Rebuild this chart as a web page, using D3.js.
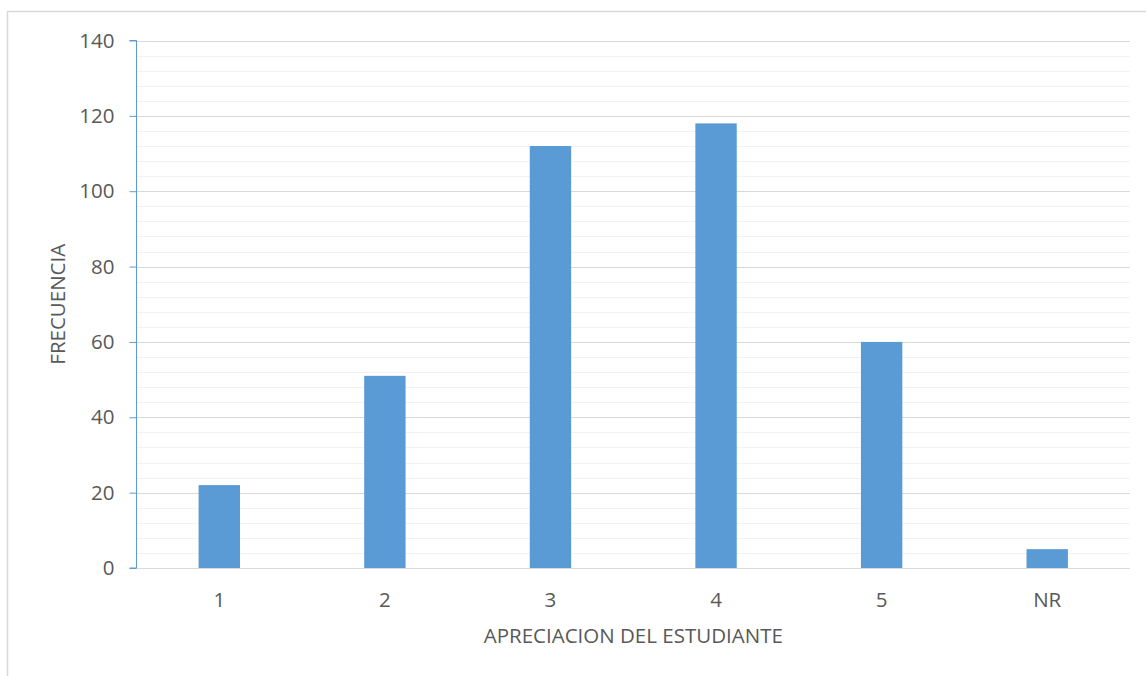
<!DOCTYPE html>
<html>
<head>
<meta charset="utf-8">
<script src="https://cdn.jsdelivr.net/npm/d3@7"></script>
<style>
  html, body { margin: 0; padding: 0; background: #fff; }
  svg { display: block; font-family: "Open Sans", "Liberation Sans", sans-serif; }
</style>
</head>
<body>
<svg id="chart" width="1146" height="676"></svg>
<script>
// Frequency of each student rating
const categories = ["1", "2", "3", "4", "5", "NR"];
const frequencies = [22, 51, 112, 118, 60, 5];
const majorTicks = [0, 20, 40, 60, 80, 100, 120, 140];
const minorTicks = d3.range(0, 141, 4);
const xTitle = "APRECIACION DEL ESTUDIANTE";
const yTitle = "FRECUENCIA";

const W = 1146, H = 676;
const plot = { left: 136.5, right: 1130, top: 40.5, bottom: 568 };
const blue = "#5B9BD5";
const textColor = "#595959";
const tickFont = 20.5;
const titleFont = 20.5;

const svg = d3.select("#chart");

// outer chart frame (top and left edges visible)
svg.append("path")
  .attr("d", `M7.5,${H}V11.5H${W}`)
  .attr("fill", "none")
  .attr("stroke", "#D9D9D9")
  .attr("stroke-width", 1.5);

const x = d3.scaleBand()
  .domain(categories)
  .range([plot.left, plot.right])
  .paddingInner(0.75)
  .paddingOuter(0.375);

const y = d3.scaleLinear()
  .domain([0, 140])
  .range([plot.bottom, plot.top]);

// minor gridlines
svg.append("g")
  .selectAll("line")
  .data(minorTicks.filter(v => v % 20 !== 0))
  .join("line")
  .attr("x1", plot.left).attr("x2", plot.right)
  .attr("y1", d => Math.round(y(d)) + 0.5).attr("y2", d => Math.round(y(d)) + 0.5)
  .attr("stroke", "#F2F2F2")
  .attr("stroke-width", 1.2);

// major gridlines
svg.append("g")
  .selectAll("line")
  .data(majorTicks)
  .join("line")
  .attr("x1", plot.left).attr("x2", plot.right)
  .attr("y1", d => Math.round(y(d)) + 0.5).attr("y2", d => Math.round(y(d)) + 0.5)
  .attr("stroke", "#D9D9D9")
  .attr("stroke-width", 1.2);

// bars
svg.append("g")
  .selectAll("rect")
  .data(categories.map((c, i) => ({ c, v: frequencies[i] })))
  .join("rect")
  .attr("x", d => x(d.c))
  .attr("width", x.bandwidth())
  .attr("y", d => y(d.v))
  .attr("height", d => y(0) - y(d.v))
  .attr("fill", blue);

// y axis
const yAxis = d3.axisLeft(y)
  .tickValues(majorTicks)
  .tickSize(7)
  .tickPadding(15)
  .tickFormat(d3.format("d"));
const gy = svg.append("g")
  .attr("transform", `translate(${plot.left},0)`)
  .call(yAxis);
gy.select(".domain").attr("stroke", blue).attr("d", `M-7,${y(140)}H0V${y(0)}H-7`);
gy.selectAll(".tick line").attr("stroke", blue);
gy.selectAll(".tick text")
  .attr("fill", textColor)
  .attr("font-size", tickFont)
  .attr("font-family", "Open Sans, sans-serif");

// x axis labels
const xAxis = d3.axisBottom(x).tickSize(0).tickPadding(24);
const gx = svg.append("g")
  .attr("transform", `translate(0,${plot.bottom})`)
  .call(xAxis);
gx.select(".domain").remove();
gx.selectAll(".tick text")
  .attr("fill", textColor)
  .attr("font-size", tickFont)
  .attr("font-family", "Open Sans, sans-serif");

// axis titles
svg.append("text")
  .attr("x", (plot.left + plot.right) / 2)
  .attr("y", 643)
  .attr("text-anchor", "middle")
  .attr("fill", textColor)
  .attr("font-size", titleFont)
  .text(xTitle);

svg.append("text")
  .attr("transform", `translate(65,${(plot.top + plot.bottom) / 2}) rotate(-90)`)
  .attr("text-anchor", "middle")
  .attr("fill", textColor)
  .attr("font-size", titleFont)
  .text(yTitle);
</script>
</body>
</html>
